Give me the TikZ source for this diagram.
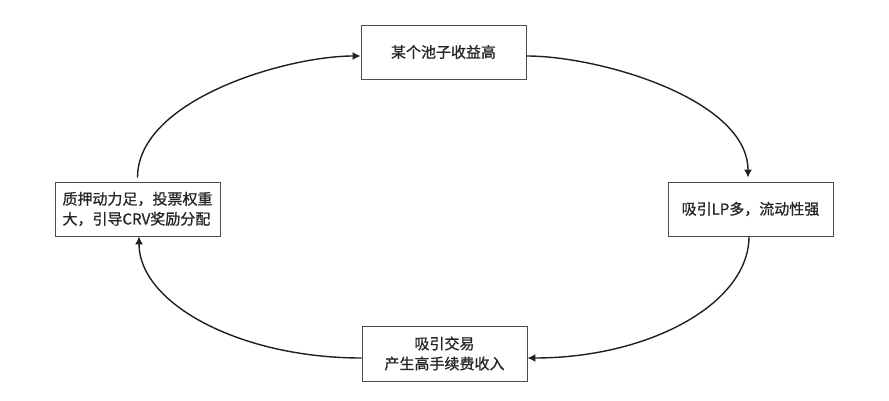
\documentclass[tikz,border=0pt]{standalone}
\usepackage{fontspec}
\setmainfont{Noto Sans CJK SC}[BoldFont={Noto Sans CJK SC}, BoldFeatures={FakeBold=0.9}]
\usetikzlibrary{arrows.meta}
\begin{document}
\begin{tikzpicture}[x=1pt,y=1pt,
  stagebox/.style={draw=black!70, line width=0.9pt, fill=white,
    minimum width=165pt, minimum height=54pt, inner sep=0pt,
    font=\fontsize{15}{20}\selectfont\bfseries, text=black!85},
  flow/.style={line width=1.4pt, black!88, -{Latex[length=8pt,width=8pt]}}]
\useasboundingbox (0,0) rectangle (889,400);
\node[stagebox] (T) at (443.5,348) {某个池子收益高};
\node[stagebox] (R) at (750.5,191) {吸引LP多，流动性强};
\node[stagebox, align=left] (L) at (137.5,191) {质押动力足，投票权重\\大，引导CRV奖励分配};
\node[stagebox, minimum height=55pt, align=center] (B) at (444.5,46.5) {吸引交易\\产生高手续费收入};
\draw[flow] ([yshift=-4pt]T.east) to[out=0,in=90,out distance=74pt,in distance=78pt] ([xshift=-2.5pt,yshift=4pt]R.north);
\draw[flow] ([xshift=-1.5pt]R.south) to[out=-90,in=0,out distance=67pt,in distance=122pt] ([yshift=-4.5pt]B.east);
\draw[flow] ([yshift=-4.5pt]B.west) to[out=180,in=-90,out distance=122pt,in distance=67pt] ([xshift=1.5pt]L.south);
\draw[flow] ([yshift=4pt]L.north) to[out=90,in=180,out distance=78pt,in distance=74pt] ([yshift=-4pt]T.west);
\end{tikzpicture}
\end{document}
